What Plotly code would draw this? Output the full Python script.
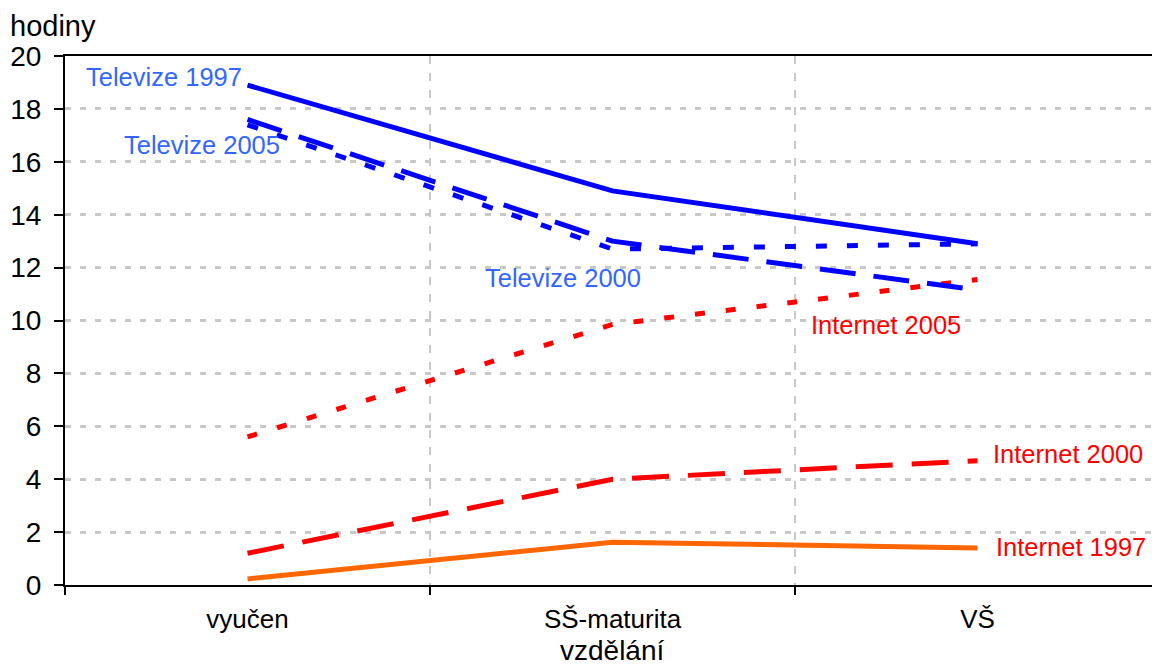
import plotly.graph_objects as go

categories = ["vyučen", "SŠ-maturita", "VŠ"]

tv_1997 = [18.9, 14.9, 12.9]
tv_2000 = [17.6, 13.0, 11.15]
tv_2005 = [17.4, 12.7, 12.9]
net_2005 = [5.6, 9.85, 11.55]
net_2000 = [1.2, 4.0, 4.7]
net_1997 = [0.23, 1.62, 1.4]

y_ticks = list(range(0, 21, 2))

FONT = "Liberation Sans, Arial, sans-serif"
BLUE = "#0000FF"
RED = "#FF0000"
ORANGE = "#FF6600"
LBLUE = "#3366FF"

series = [
    ("Internet 1997", net_1997, ORANGE, "solid"),
    ("Internet 2000", net_2000, RED, "37px,19px"),
    ("Internet 2005", net_2005, RED, "10px,21px"),
    ("Televize 2005", tv_2005, BLUE, "11px,20px"),
    ("Televize 2000", tv_2000, BLUE, "36px,18px"),
    ("Televize 1997", tv_1997, BLUE, "solid"),
]

fig = go.Figure()
for name, vals, color, dash in series:
    fig.add_trace(go.Scatter(
        x=categories, y=vals, mode="lines", name=name,
        line=dict(color=color, width=5, dash=dash),
        showlegend=False,
    ))

labels = [
    ("Televize 1997", -0.229, 19.2, LBLUE),
    ("Televize 2005", -0.126, 16.63, LBLUE),
    ("Televize 2000", 0.863, 11.6, LBLUE),
    ("Internet 2005", 1.749, 9.83, RED),
    ("Internet 2000", 2.248, 4.95, RED),
    ("Internet 1997", 2.255, 1.42, RED),
]
for text, x, y, color in labels:
    fig.add_annotation(x=x, y=y, xref="x", yref="y", text=text, showarrow=False,
                       xanchor="center", yanchor="middle",
                       font=dict(family=FONT, size=25.5, color=color))

fig.add_annotation(xref="paper", yref="paper", x=-65/1087, y=1, xanchor="left", yanchor="bottom",
                   xshift=9, yshift=13, text="hodiny", showarrow=False, borderpad=0,
                   font=dict(family=FONT, size=29, color="black"))
fig.add_annotation(xref="x", yref="paper", x=1, y=0, xanchor="center", yanchor="top",
                   yshift=-49, text="vzdělání", showarrow=False, borderpad=0,
                   font=dict(family=FONT, size=28, color="black"))

fig.update_layout(
    width=1152, height=665,
    margin=dict(l=65, r=0, t=56, b=80),
    paper_bgcolor="white", plot_bgcolor="white",
    font=dict(family=FONT, color="black"),
    xaxis=dict(
        type="category", range=[-0.5, 2.478],
        tickson="boundaries", ticks="outside", ticklen=8, tickwidth=2, tickcolor="black",
        showline=True, linecolor="black", linewidth=2, mirror=True,
        showgrid=True, gridcolor="#c8c8c8", gridwidth=2, griddash="8px,9px",
        tickfont=dict(family=FONT, size=26, color="black"),
        ticklabelstandoff=10,
    ),
    yaxis=dict(
        range=[0, 20], tickvals=y_ticks, ticktext=[str(v) for v in y_ticks],
        ticks="outside", ticklen=9, tickwidth=2, tickcolor="black",
        showline=True, linecolor="black", linewidth=2,
        showgrid=True, gridcolor="#c8c8c8", gridwidth=2.5, griddash="6px,9px",
        zeroline=False,
        tickfont=dict(family=FONT, size=28, color="black"),
        ticklabelstandoff=7,
    ),
)

fig.write_html("out.html")
